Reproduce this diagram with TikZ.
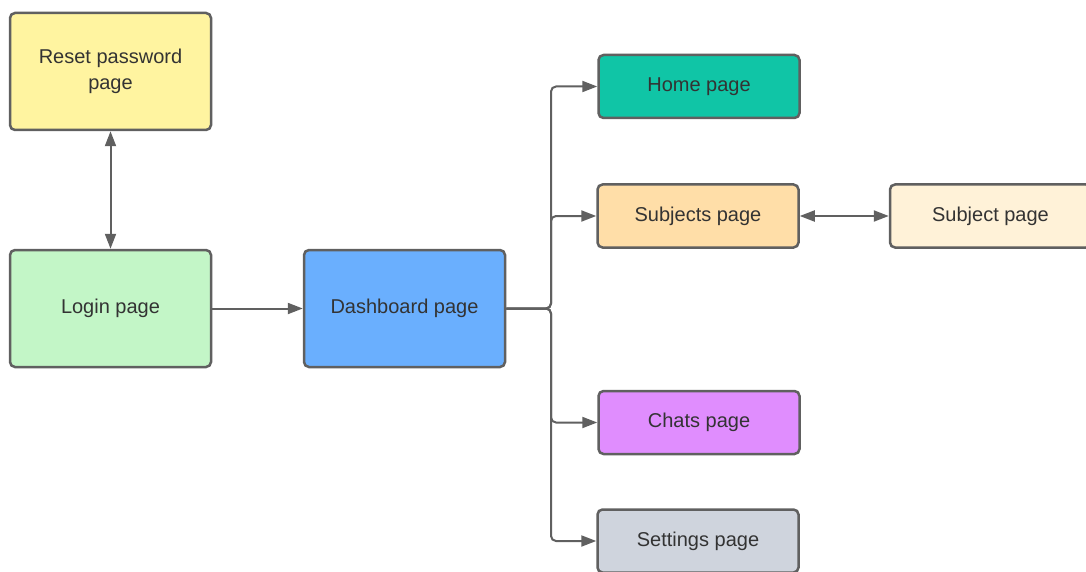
\documentclass[tikz,border=0pt]{standalone}
\usepackage{fontspec}
\setmainfont{Liberation Sans}
\usetikzlibrary{arrows.meta}
\definecolor{edgec}{HTML}{606060}
\definecolor{txtc}{HTML}{333333}
\definecolor{cReset}{HTML}{FFF4A0}
\definecolor{cLogin}{HTML}{C3F6C7}
\definecolor{cDash}{HTML}{6AAFFE}
\definecolor{cHome}{HTML}{10C5A6}
\definecolor{cSubjs}{HTML}{FFDEA8}
\definecolor{cSubj}{HTML}{FFF2D8}
\definecolor{cChat}{HTML}{E08DFE}
\definecolor{cSet}{HTML}{CFD4DD}
\tikzset{
  pagebox/.style={draw=edgec, line width=2.5pt, rounded corners=5pt, align=center,
    text=txtc, font=\fontsize{20}{26}\selectfont, inner sep=0pt},
  bigbox/.style={pagebox, minimum width=201pt, minimum height=117pt},
  smallbox/.style={pagebox, minimum width=201pt, minimum height=63pt},
  conn/.style={draw=edgec, line width=2pt, -{Triangle[length=15pt,width=11pt]}},
  conn2/.style={draw=edgec, line width=2pt, {Triangle[length=15pt,width=11pt]}-{Triangle[length=15pt,width=11pt]}}
}
\begin{document}
\begin{tikzpicture}[x=1pt,y=-1pt]
\useasboundingbox (0,0) rectangle (1086,572);
\fill[white] (0,0) rectangle (1086,572);
\node[bigbox, fill=cReset] (reset) at (110.5,71.5) {Reset password\\page};
\node[bigbox, fill=cLogin] (login) at (110.5,308.5) {Login page};
\node[bigbox, fill=cDash] (dash) at (404.5,308.5) {Dashboard page};
\node[smallbox, fill=cHome] (home) at (699,86.5) {Home page};
\node[smallbox, fill=cSubjs] (subjs) at (698,216) {Subjects page};
\node[smallbox, fill=cSubj] (subj) at (990.5,216) {Subject page};
\node[smallbox, fill=cChat] (chat) at (699,422.5) {Chats page};
\node[smallbox, fill=cSet] (set) at (698,541) {Settings page};
\coordinate (trunk) at (551,308.5);
\draw[conn2] (reset.south) -- (login.north);
\draw[conn] (login.east) -- (dash.west);
\draw[conn2] (subjs.east) -- (subj.west);
\draw[conn, rounded corners=5pt] (dash.east) -- (trunk) |- (home.west);
\draw[conn, rounded corners=5pt] (dash.east) -- (trunk) |- (subjs.west);
\draw[conn, rounded corners=5pt] (dash.east) -- (trunk) |- (chat.west);
\draw[conn, rounded corners=5pt] (dash.east) -- (trunk) |- (set.west);
\end{tikzpicture}
\end{document}
